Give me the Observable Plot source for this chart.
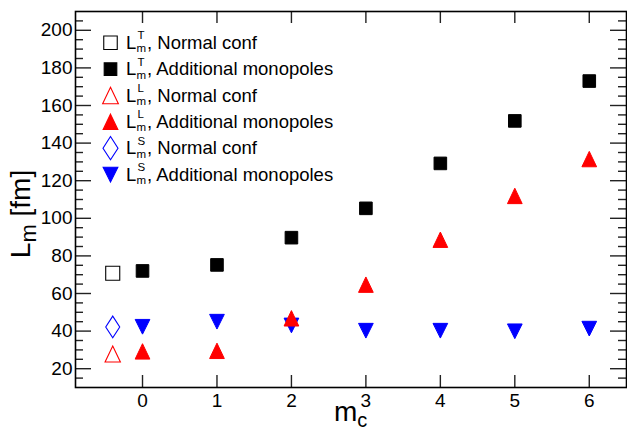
<!DOCTYPE html>
<html>
<head>
<meta charset="utf-8">
<script src="https://cdn.jsdelivr.net/npm/d3@7"></script>
<script src="https://cdn.jsdelivr.net/npm/@observablehq/plot@0.6"></script>
<style>
  html, body { margin: 0; padding: 0; background: #fff; }
  #wrap { position: relative; width: 627px; height: 433px; }
</style>
</head>
<body>
<div id="wrap"></div>
<script>
// ---- data ----
const mc = [0, 1, 2, 3, 4, 5, 6];
const LT_additional = [72, 75.2, 89.7, 105.3, 129.2, 151.8, 173];
const LL_additional = [29.2, 29.5, 46.8, 64.7, 88.6, 111.9, 131.5];
const LS_additional = [42.3, 45.0, 43.0, 40.2, 40.2, 39.9, 41.3];
const normalX = [-0.4];
const LT_normal = [70.8];
const LL_normal = [27.8];
const LS_normal = [42.2];
const xTicks = [0, 1, 2, 3, 4, 5, 6];
const yTicks = [20, 40, 60, 80, 100, 120, 140, 160, 180, 200];
const yMinor = d3.range(15, 210, 5).filter(v => v % 20 !== 0);
const legendItems = [
  {sup: "T", text: "Normal conf", shape: "square", fill: "none", stroke: "black"},
  {sup: "T", text: "Additional monopoles", shape: "square", fill: "black", stroke: "black"},
  {sup: "L", text: "Normal conf", shape: "up", fill: "none", stroke: "red"},
  {sup: "L", text: "Additional monopoles", shape: "up", fill: "red", stroke: "red"},
  {sup: "S", text: "Normal conf", shape: "diamond", fill: "none", stroke: "blue"},
  {sup: "S", text: "Additional monopoles", shape: "down", fill: "blue", stroke: "blue"}
];

// ---- custom symbols (size = r^2 * pi) ----
const R = s => Math.sqrt(s / Math.PI);
const symbols = {
  square: {draw(c, s) { const h = R(s) * 0.9; c.rect(-h, -h, 2 * h, 2 * h); }},
  up: {draw(c, s) { const r = R(s); c.moveTo(0, -1.1 * r); c.lineTo(1.05 * r, 1.1 * r); c.lineTo(-1.05 * r, 1.1 * r); c.closePath(); }},
  down: {draw(c, s) { const r = R(s); c.moveTo(0, 1.05 * r); c.lineTo(1.05 * r, -1.05 * r); c.lineTo(-1.05 * r, -1.05 * r); c.closePath(); }},
  diamond: {draw(c, s) { const r = R(s); c.moveTo(0, -1.55 * r); c.lineTo(r, 0); c.lineTo(0, 1.55 * r); c.lineTo(-r, 0); c.closePath(); }}
};

const W = 627, H = 433;
const mL = 75, mT = 11, mR = 1, mB = 46;
const pw = W - mL - mR, ph = H - mT - mB;
const rowY0 = 42.3, rowStep = 26.35;
const FONT = "Liberation Sans, Arial, sans-serif";

const series = (xs, ys) => xs.map((x, i) => ({x, y: ys[i]}));

const legendMarks = legendItems.map((d, i) => Plot.dot([d], {
  frameAnchor: "top-left", dx: 35, dy: rowY0 - mT + rowStep * i,
  symbol: symbols[d.shape], r: d.fill === "none" ? 7.5 : 7,
  fill: d.fill, stroke: d.stroke, strokeWidth: 1.1
}));

const chart = Plot.plot({
  width: W, height: H,
  marginLeft: mL, marginTop: mT, marginRight: mR, marginBottom: mB,
  style: {fontFamily: FONT, fontSize: "19px", color: "black", background: "white"},
  x: {domain: [-0.9, 6.5]},
  y: {domain: [10, 210]},
  marks: [
    // ticks (inward)
    Plot.tickY(yTicks, {y: d => d, insetRight: pw - 16, stroke: "#222", strokeWidth: 1.4}),
    Plot.tickY(yTicks, {y: d => d, insetLeft: pw - 16, stroke: "#222", strokeWidth: 1.4}),
    Plot.tickY(yMinor, {y: d => d, insetRight: pw - 8, stroke: "#222", strokeWidth: 1.4}),
    Plot.tickY(yMinor, {y: d => d, insetLeft: pw - 8, stroke: "#222", strokeWidth: 1.4}),
    Plot.tickX(xTicks, {x: d => d, insetTop: ph - 12, stroke: "#222", strokeWidth: 1.4}),
    Plot.tickX(xTicks, {x: d => d, insetBottom: ph - 12, stroke: "#222", strokeWidth: 1.4}),
    Plot.axisX(xTicks, {tickSize: 0, tickPadding: 6, fontSize: 19, label: null}),
    Plot.axisY(yTicks, {tickSize: 0, tickPadding: 3, fontSize: 19, label: null}),
    Plot.frame({stroke: "black", strokeWidth: 1.6}),
    // data
    Plot.dot(series(mc, LT_additional), {x: "x", y: "y", symbol: symbols.square, r: 7, fill: "black", stroke: "black", strokeWidth: 1}),
    Plot.dot(series(normalX, LT_normal), {x: "x", y: "y", symbol: symbols.square, r: 7.8, fill: "none", stroke: "black", strokeWidth: 1.1}),
    Plot.dot(series(mc, LS_additional), {x: "x", y: "y", symbol: symbols.down, r: 7, fill: "blue", stroke: "blue", strokeWidth: 1}),
    Plot.dot(series(normalX, LS_normal), {x: "x", y: "y", symbol: symbols.diamond, r: 7, fill: "none", stroke: "blue", strokeWidth: 1.1}),
    Plot.dot(series(mc, LL_additional), {x: "x", y: "y", symbol: symbols.up, r: 7, fill: "red", stroke: "red", strokeWidth: 1}),
    Plot.dot(series(normalX, LL_normal), {x: "x", y: "y", symbol: symbols.up, r: 7.3, fill: "none", stroke: "red", strokeWidth: 1.1}),
    ...legendMarks
  ]
});

document.getElementById("wrap").appendChild(chart);
const svg = d3.select(chart);

// legend text: one <text> per row with stacked super/subscript
const fs = 18.5, sfs = 11.5, supOff = 9.6, subOff = 3.45;
legendItems.forEach((d, i) => {
  const baseline = rowY0 + rowStep * i + 6.5;
  const t = svg.append("text")
    .attr("x", 126).attr("y", baseline)
    .attr("text-anchor", "start")
    .attr("font-family", FONT).attr("font-size", fs).attr("fill", "black");
  t.append("tspan").text("L");
  t.append("tspan").attr("x", 137.4).attr("dy", -supOff).attr("font-size", sfs).text(d.sup);
  t.append("tspan").attr("x", 136.5).attr("dy", supOff + subOff).attr("font-size", sfs).text("m");
  t.append("tspan").attr("x", 147).attr("dy", -subOff).text(", " + d.text);
});

// x axis title
const xt = svg.append("text")
  .attr("x", 334).attr("y", 421)
  .attr("text-anchor", "start")
  .attr("font-family", FONT).attr("font-size", 28).attr("fill", "black");
xt.append("tspan").text("m");
xt.append("tspan").attr("dy", 6).attr("font-size", 20).text("c");

// y axis title
const yt = svg.append("text")
  .attr("transform", "translate(29.7,214) rotate(-90)")
  .attr("text-anchor", "middle")
  .attr("font-family", FONT).attr("font-size", 28).attr("fill", "black");
yt.append("tspan").text("L");
yt.append("tspan").attr("dy", 6).attr("font-size", 22).text("m");
yt.append("tspan").attr("dy", -6).text(" [fm]");
</script>
</body>
</html>
